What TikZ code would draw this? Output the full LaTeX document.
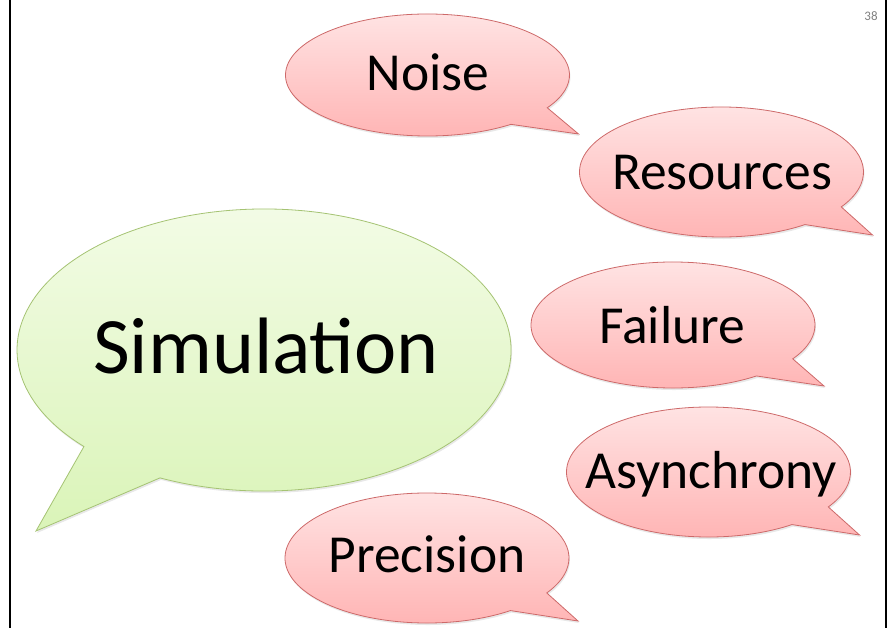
\documentclass[tikz,border=0pt]{standalone}
\usepackage{fontspec}
\setmainfont{Carlito}
\usetikzlibrary{calc,shadows}
\definecolor{pinkedge}{RGB}{205,105,105}
\definecolor{pinktop}{RGB}{255,230,230}
\definecolor{pinkbot}{RGB}{255,178,178}
\definecolor{greenedge}{RGB}{165,195,115}
\definecolor{greentop}{RGB}{244,252,232}
\definecolor{greenbot}{RGB}{218,244,184}
\newcommand\pinkbub[4]{%
  \coordinate (#1) at (#2,#3);
  \path[pinkbubble] ($(#1)+(32.5:142 and #4)$) -- ($(#1)+(151,#4-2)$) -- ($(#1)+(54:142 and #4)$)
    arc[start angle=54, end angle=392.5, x radius=142, y radius=#4] -- cycle;
}
\begin{document}
\begin{tikzpicture}[x=1pt,y=-1pt,
  pinkbubble/.style={draw=pinkedge, line width=0.8pt, top color=pinktop, bottom color=pinkbot,
    drop shadow={shadow xshift=1pt, shadow yshift=-2pt, opacity=0.18}},
  greenbubble/.style={draw=greenedge, line width=0.8pt, top color=greentop, bottom color=greenbot,
    drop shadow={shadow xshift=1pt, shadow yshift=-2pt, opacity=0.18}},
  lbl/.style={anchor=base, inner sep=0pt, text=black, font=\fontsize{53.5}{60}\selectfont},
  biglbl/.style={anchor=base, inner sep=0pt, text=black, font=\fontsize{80}{90}\selectfont},
  frame/.style={line width=1.4pt, black}]
\useasboundingbox (0,0) rectangle (888,628);
\path[fill=white] (0,0) rectangle (888,628);
\coordinate (fl1) at (10,0); \coordinate (fl2) at (10,628);
\coordinate (fr1) at (886,0); \coordinate (fr2) at (886,628);
\draw[frame] (fl1) -- (fl2);
\draw[frame] (fr1) -- (fr2);
\node[anchor=base, inner sep=0pt, text=black!50, font=\fontsize{13}{15}\selectfont] (pnum) at (871,21) {38};
% green bubble
\coordinate (S) at (264,350);
\path[greenbubble] ($(S)+(136.8:247 and 141)$) -- ($(S)+(-228,181)$) -- ($(S)+(114.9:247 and 141)$)
  arc[start angle=114.9, end angle=-223.2, x radius=247, y radius=141] -- cycle;
\node[biglbl] (tSim) at (266,373) {Simulation};
% pink bubbles
\pinkbub{N}{427.5}{75}{61}
\pinkbub{R}{721.5}{172}{65}
\pinkbub{F}{673}{325}{63}
\pinkbub{A}{708.5}{472}{65}
\pinkbub{P}{427}{558}{65}
\node[lbl] (tNoise) at (428,91) {Noise};
\node[lbl] (tRes) at (722,190) {Resources};
\node[lbl] (tFail) at (672,343) {Failure};
\node[lbl] (tAsy) at (711,488) {Asynchrony};
\node[lbl] (tPrec) at (427,572) {Precision};
\end{tikzpicture}
\end{document}
